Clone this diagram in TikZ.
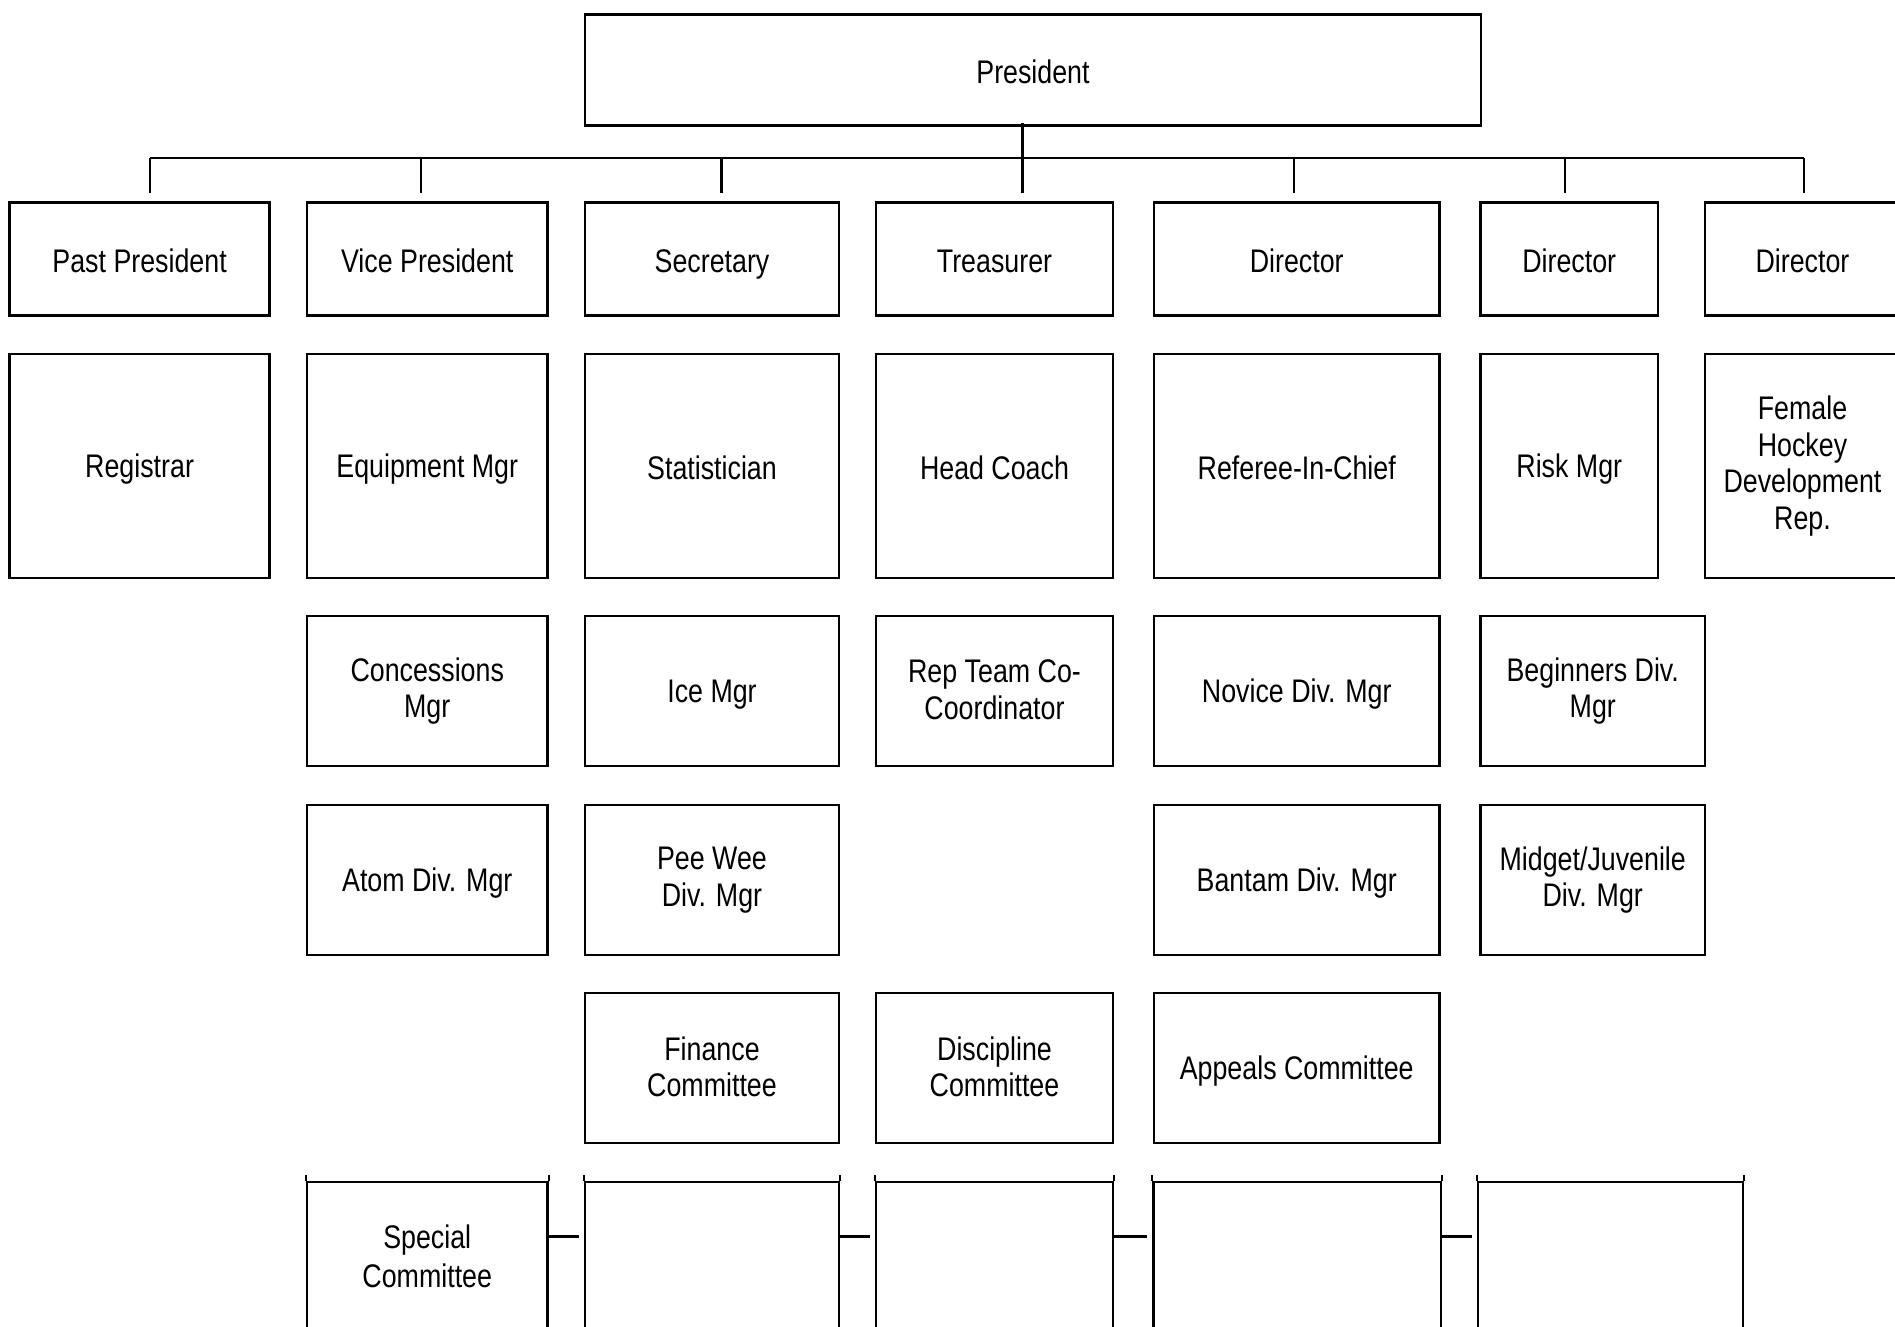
\documentclass[tikz,border=0pt]{standalone}
\usepackage{fontspec}
\setmainfont[FakeStretch=0.82]{Liberation Sans}
\newcommand\boxstrut{\rule[-0.7pt]{0pt}{9pt}}
\begin{document}
\begin{tikzpicture}[
  box/.style={draw, line width=0.75pt, inner sep=0pt, align=center,
    font=\fontsize{9.3}{10.45}\selectfont,
    execute at begin node=\boxstrut, execute at end node=\boxstrut},
  toprow/.style={box, minimum height=1.125cm},
  tallrow/.style={box, minimum height=2.24cm},
  midrow/.style={box, minimum height=1.5cm},
  link/.style={line width=0.6pt}
]
  \useasboundingbox (0,0) rectangle (18.95,13.27);
  \clip (0,0) rectangle (18.95,13.27);

  % President
  \node[box, minimum width=8.96cm, minimum height=1.115cm] (pres) at (10.33,12.57) {President};

  % Board row
  \node[toprow, minimum width=2.60cm]  (past)  at (1.396,10.68)  {Past President};
  \node[toprow, minimum width=2.405cm] (vice)  at (4.2725,10.68) {Vice President};
  \node[toprow, minimum width=2.54cm]  (secr)  at (7.12,10.68)   {\smash{Secretary}};
  \node[toprow, minimum width=2.37cm]  (treas) at (9.945,10.68)  {Treasurer};
  \node[toprow, minimum width=2.855cm] (dirA)  at (12.9675,10.68) {Director};
  \node[toprow, minimum width=1.775cm] (dirB)  at (15.6925,10.68) {Director};
  \node[toprow, minimum width=1.95cm]  (dirC)  at (18.025,10.68) {Director};

  % Links from the president
  \coordinate (bar) at (10.225,11.69);
  \foreach \x [count=\i] in {1.50,4.21,7.215,10.225,12.94,15.65,18.04}
    \coordinate (d\i) at (\x,11.34);
  \draw[link] ([yshift=0.04cm]pres.south -| bar) -- (bar);
  \draw[line width=0.8pt] (d1 |- bar) -- (d7 |- bar);
  \foreach \i in {1,...,7}
    \draw[link] (d\i |- bar) -- (d\i);

  % Second row
  \node[tallrow, minimum width=2.60cm]  (regis)  at (1.396,8.61)   {Registrar};
  \node[tallrow, minimum width=2.405cm] (equip)  at (4.2725,8.61)  {Equipment Mgr};
  \node[tallrow, minimum width=2.54cm]  (stats)  at (7.12,8.61)    {Statistician};
  \node[tallrow, minimum width=2.37cm]  (coach)  at (9.945,8.61)   {Head Coach};
  \node[tallrow, minimum width=2.855cm] (referee) at (12.9675,8.61) {Referee-In-Chief};
  \node[tallrow, minimum width=1.775cm] (risk)   at (15.6925,8.61) {Risk Mgr};
  \node[tallrow, minimum width=1.95cm]  (female) at (18.025,8.61)  {Female\\Hockey\\Development\\Rep.};

  % Third row
  \node[midrow, minimum width=2.405cm] (conc)   at (4.2725,6.36)  {Concessions\\Mgr};
  \node[midrow, minimum width=2.54cm]  (ice)    at (7.12,6.36)    {Ice Mgr};
  \node[midrow, minimum width=2.37cm]  (repteam) at (9.945,6.36)  {Rep Team Co-\\Coordinator};
  \node[midrow, minimum width=2.855cm] (novice) at (12.9675,6.36) {Novice Div. Mgr};
  \node[midrow, minimum width=2.245cm] (begin)  at (15.9275,6.36) {Beginners Div.\\Mgr};

  % Fourth row
  \node[midrow, minimum width=2.405cm] (atom)   at (4.2725,4.47)  {Atom Div. Mgr};
  \node[midrow, minimum width=2.54cm]  (peewee) at (7.12,4.47)    {Pee Wee\\Div. Mgr};
  \node[midrow, minimum width=2.855cm] (bantam) at (12.9675,4.47) {Bantam Div. Mgr};
  \node[midrow, minimum width=2.245cm] (midget) at (15.9275,4.47) {Midget/Juvenile\\Div. Mgr};

  % Committees
  \node[midrow, minimum width=2.54cm]  (finance) at (7.12,2.59)    {Finance\\Committee};
  \node[midrow, minimum width=2.37cm]  (discip)  at (9.945,2.59)   {Discipline\\Committee};
  \node[midrow, minimum width=2.855cm] (appeals) at (12.9675,2.59) {Appeals Committee};

  % Special committee row
  \node[midrow, minimum width=2.405cm] (s1) at (4.2725,0.70) {Special\\[0.6pt]Committee};
  \node[midrow, minimum width=2.54cm]  (s2) at (7.12,0.70)   {};
  \node[midrow, minimum width=2.37cm]  (s3) at (9.945,0.70)  {};
  \node[midrow, minimum width=2.874cm] (s4) at (12.973,0.70) {};
  \node[midrow, minimum width=2.65cm]  (s5) at (16.105,0.70) {};
  \foreach \i in {1,...,5}
    \draw[link] (s\i.north west) -- ++(0,0.06) (s\i.north east) -- ++(0,0.06);
  \foreach \a/\b in {1/2,2/3,3/4,4/5}
    \draw[line width=0.75pt] ([yshift=-0.56cm]s\a.north east) -- ([xshift=-0.05cm,yshift=-0.56cm]s\b.north west);
\end{tikzpicture}
\end{document}
